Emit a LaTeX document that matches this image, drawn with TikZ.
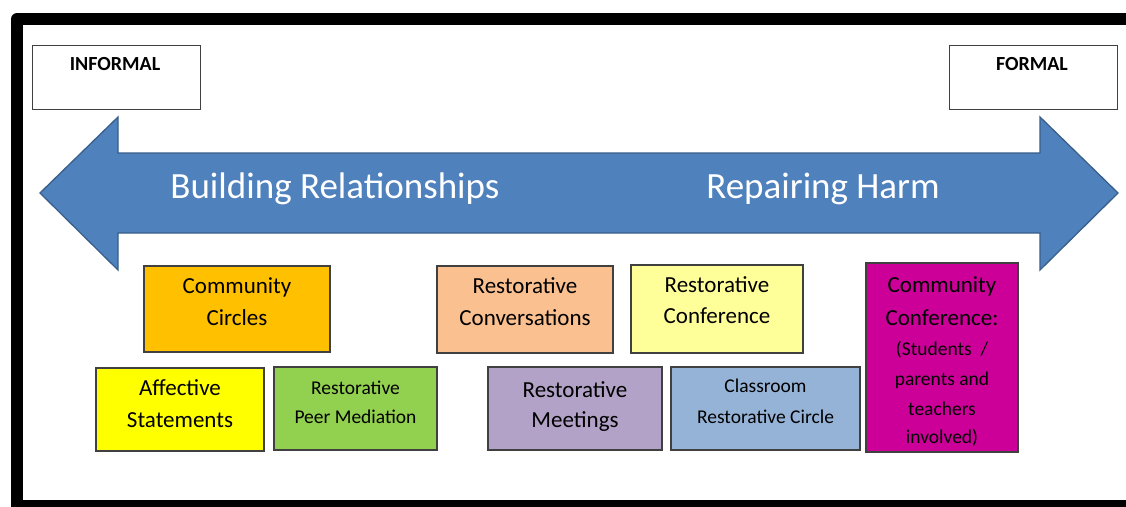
\documentclass[tikz,border=0pt]{standalone}
\usepackage{fontspec}
\setmainfont{Carlito}

\definecolor{bandblue}{HTML}{4F81BD}
\definecolor{bandedge}{HTML}{3A5F8B}
\definecolor{boxedge}{HTML}{404040}
\definecolor{circlesfill}{HTML}{FFC000}
\definecolor{affectfill}{HTML}{FFFF00}
\definecolor{peerfill}{HTML}{92D050}
\definecolor{convfill}{HTML}{FAC090}
\definecolor{meetfill}{HTML}{B2A2C7}
\definecolor{conffill}{HTML}{FFFF99}
\definecolor{classfill}{HTML}{95B3D7}
\definecolor{commfill}{HTML}{CC0099}

\tikzset{
    practice/.style={rectangle, draw=boxedge, line width=1.2pt, align=center, inner sep=0pt, text depth=0pt},
    bigtext/.style={font=\fontsize{23}{32}\selectfont},
    smalltext/.style={font=\fontsize{19.5}{29}\selectfont},
    endbox/.style={rectangle, draw=boxedge, line width=1pt, inner sep=0pt, minimum width=168pt, minimum height=64pt},
    endtext/.style={font=\fontsize{20}{24}\selectfont\bfseries},
    bandtext/.style={text=white, font=\fontsize{37}{44}\selectfont}
}

\begin{document}
\begin{tikzpicture}[x=1pt, y=-1pt]
    \useasboundingbox (0,0) rectangle (1126,506);
    % Frame
    \fill[black, rounded corners=6pt] (11,13) rectangle (1160,540);
    \fill[white] (23,25) rectangle (1150,500);

    % Ends of the scale
    \node [endbox] (informal) at (116,77) {};
    \node [endtext, anchor=base] (informaltext) at (115,70) {INFORMAL};
    \node [endbox] (formal) at (1033,77) {};
    \node [endtext, anchor=base] (formaltext) at (1032,70) {FORMAL};

    % Double arrow
    \draw[bandedge, fill=bandblue, line width=1.3pt] (40,193) -- (118,117) -- (118,153) -- (1040,153) -- (1040,117)
        -- (1118,193) -- (1040,270) -- (1040,233) -- (118,233) -- (118,270) -- cycle;
    \node [bandtext, anchor=base] (build) at (335,198) {Building Relationships};
    \node [bandtext, anchor=base] (repair) at (823,198) {Repairing Harm};

    % Practices
    \node [practice, bigtext, fill=circlesfill, minimum width=186pt, minimum height=86pt, text height=32pt] (circles) at (237,309) {Community\\Circles};
    \node [practice, bigtext, fill=affectfill, minimum width=168pt, minimum height=83pt, text height=35pt] (affective) at (180,409.5) {Affective\\Statements};
    \node [practice, smalltext, fill=peerfill, minimum width=163pt, minimum height=83pt, text height=29pt] (peer) at (355.5,408.5) {Restorative\\Peer Mediation};
    \node [practice, bigtext, fill=convfill, minimum width=176pt, minimum height=87pt, text height=31pt] (conversations) at (525,309.5) {Restorative\\Conversations};
    \node [practice, bigtext, fill=meetfill, minimum width=174pt, minimum height=83pt, text height=37pt] (meetings) at (575,408.5) {Restorative\\[-2pt]Meetings};
    \node [practice, bigtext, fill=conffill, minimum width=172pt, minimum height=88pt, text height=28pt] (conference) at (717,309) {Restorative\\[-1pt]Conference};
    \node [practice, smalltext, fill=classfill, minimum width=189pt, minimum height=83pt, text height=29pt] (classroom) at (765.5,408.5) {Classroom\\[2pt]Restorative Circle};
    \node [practice, bigtext, fill=commfill, minimum width=152pt, minimum height=189pt, text height=171pt] (community) at (942,357.5)
        {Community\\[1pt]Conference:\\[-2pt]{\fontsize{19.5}{29}\selectfont (Students~~/}\\[-2pt]{\fontsize{19.5}{29}\selectfont parents and}\\[-2pt]{\fontsize{19.5}{29}\selectfont teachers}\\[-4pt]{\fontsize{19.5}{29}\selectfont involved)}};
\end{tikzpicture}
\end{document}
